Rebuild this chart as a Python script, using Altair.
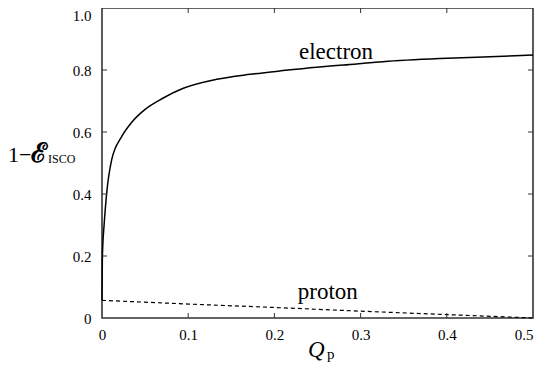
import altair as alt
import pandas as pd

# Electron curve
e_q = [0, 0.0001, 0.0004, 0.001, 0.0023, 0.0054, 0.0112, 0.0228, 0.035, 0.05, 0.07,
       0.0943, 0.133, 0.172, 0.21, 0.249, 0.28, 0.326, 0.392, 0.45, 0.5]
e_v = [0.057, 0.10, 0.187, 0.24, 0.295, 0.402, 0.51, 0.585, 0.633, 0.673, 0.708,
       0.741, 0.770, 0.786, 0.798, 0.809, 0.816, 0.827, 0.837, 0.843, 0.848]
# Proton curve
p_q = [0, 0.1, 0.2, 0.3, 0.4, 0.5]
p_v = [0.057, 0.045, 0.034, 0.022, 0.011, 0.0]

x_ticks = [0, 0.1, 0.2, 0.3, 0.4, 0.5]
y_ticks = [0, 0.2, 0.4, 0.6, 0.8, 1.0]
x_inner = [0.1, 0.2, 0.3, 0.4]
y_inner = [0.2, 0.4, 0.6, 0.8]

labels = ["electron", "proton"]
label_q = [0.2715, 0.262]
label_v = [0.835, 0.061]

W, H = 431, 310
FONT = "Liberation Serif"

df_e = pd.DataFrame({"q": e_q, "v": e_v})
df_p = pd.DataFrame({"q": p_q, "v": p_v})
df_xt = pd.DataFrame({"q": x_inner})
df_yt = pd.DataFrame({"v": y_inner})
df_lab = pd.DataFrame({"q": label_q, "v": label_v, "t": labels})

xscale = alt.Scale(domain=[0, 0.5], nice=False, zero=False)
yscale = alt.Scale(domain=[0, 1], nice=False, zero=False)

fmt = "datum.value == 0 ? '0' : format(datum.value, '.1f')"
xaxis = alt.Axis(values=x_ticks, ticks=False, domain=False, grid=False, title=None,
                 labelFont=FONT, labelFontSize=15, labelColor="black", labelPadding=9,
                 labelExpr=fmt, labelFlush=False,
                 labelAlign={"condition": {"test": "datum.value >= 0.5", "value": "right"},
                             "value": "center"})
yaxis = alt.Axis(values=y_ticks, ticks=False, domain=False, grid=False, title=None,
                 labelFont=FONT, labelFontSize=15, labelColor="black", labelPadding=11,
                 labelExpr=fmt, labelFlush=False,
                 labelBaseline={"condition": {"test": "datum.value >= 1", "value": "top"},
                                "value": "middle"})

electron = alt.Chart(df_e).mark_line(color="black", strokeWidth=1.5, interpolate="monotone").encode(
    x=alt.X("q:Q", scale=xscale, axis=xaxis),
    y=alt.Y("v:Q", scale=yscale, axis=yaxis),
)
proton = alt.Chart(df_p).mark_line(color="black", strokeWidth=1.2, strokeDash=[4, 3]).encode(
    x=alt.X("q:Q", scale=xscale),
    y=alt.Y("v:Q", scale=yscale),
)

tick_color = "#333"
bt = alt.Chart(df_xt).mark_rule(color=tick_color, strokeWidth=1).encode(
    x=alt.X("q:Q", scale=xscale), y=alt.value(H), y2=alt.value(H - 5))
tt = alt.Chart(df_xt).mark_rule(color=tick_color, strokeWidth=1).encode(
    x=alt.X("q:Q", scale=xscale), y=alt.value(0), y2=alt.value(5))
lt = alt.Chart(df_yt).mark_rule(color=tick_color, strokeWidth=1).encode(
    y=alt.Y("v:Q", scale=yscale), x=alt.value(0), x2=alt.value(5))
rt = alt.Chart(df_yt).mark_rule(color=tick_color, strokeWidth=1).encode(
    y=alt.Y("v:Q", scale=yscale), x=alt.value(W), x2=alt.value(W - 5))

lab = alt.Chart(df_lab).mark_text(font=FONT, fontSize=23, color="black",
                                  align="center", baseline="alphabetic").encode(
    x=alt.X("q:Q", scale=xscale), y=alt.Y("v:Q", scale=yscale), text="t:N")

one = pd.DataFrame({"a": [1]})
yt1 = alt.Chart(one).mark_text(font=FONT, fontSize=22, color="black", align="left",
                               baseline="alphabetic").encode(
    x=alt.value(-94), y=alt.value(154), text=alt.value("1\u2212"))
yt2 = alt.Chart(one).mark_text(font=FONT, fontSize=27, fontWeight="bold", color="black",
                               align="left", baseline="alphabetic").encode(
    x=alt.value(-71), y=alt.value(154), text=alt.value("\u2130"))
yt3 = alt.Chart(one).mark_text(font=FONT, fontSize=12, color="black", align="left",
                               baseline="alphabetic").encode(
    x=alt.value(-54), y=alt.value(155), text=alt.value("ISCO"))
xt1 = alt.Chart(one).mark_text(font=FONT, fontSize=23, fontStyle="italic", color="black",
                               align="left", baseline="alphabetic").encode(
    x=alt.value(206), y=alt.value(349), text=alt.value("Q"))
xt2 = alt.Chart(one).mark_text(font=FONT, fontSize=15, color="black", align="left",
                               baseline="alphabetic").encode(
    x=alt.value(225), y=alt.value(351), text=alt.value("p"))

chart = alt.layer(electron, proton, bt, tt, lt, rt, lab, yt1, yt2, yt3, xt1, xt2).properties(
    width=W, height=H,
    autosize=alt.AutoSizeParams(type="none"),
    padding={"left": 94, "top": 0, "right": 4, "bottom": 46},
).configure(font=FONT).configure_view(stroke="#333", strokeWidth=1.6)

chart.save("out.html", embed_options={"renderer": "svg", "actions": False})
